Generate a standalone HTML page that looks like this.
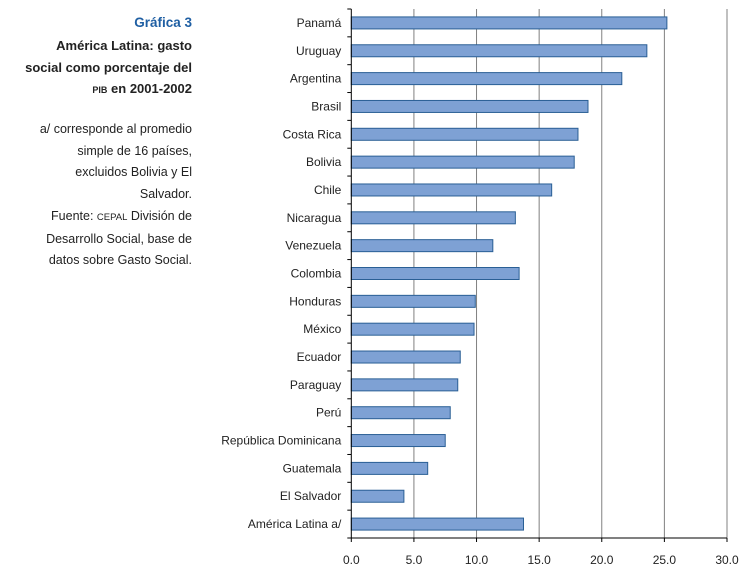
<!DOCTYPE html>
<html><head><meta charset="utf-8"><style>
body{margin:0;background:#fff;width:747px;height:577px;overflow:hidden;font-family:"Liberation Sans",sans-serif}
.side{position:absolute;right:555px;text-align:right;font-size:12.5px;color:#222;line-height:21.7px}
</style></head><body>
<div class="side" style="top:12px;color:#1f5fa3;font-weight:bold;font-size:13.5px">Gráfica 3</div>
<div class="side" style="top:35px;font-weight:bold;font-size:13px;width:200px">América Latina: gasto<br>social como porcentaje del<br><span style="font-size:9px">PIB</span> en 2001-2002</div>
<div class="side" style="top:119px;width:200px">a/ corresponde al promedio<br>simple de 16 países,<br>excluidos Bolivia y El<br>Salvador.<br>Fuente: <span style="font-size:9.5px">CEPAL</span> División de<br>Desarrollo Social, base de<br>datos sobre Gasto Social.</div>
<svg id="chart" width="747" height="577" style="position:absolute;left:0;top:0"></svg>
<script>
const categories=["Panamá","Uruguay","Argentina","Brasil","Costa Rica","Bolivia","Chile","Nicaragua","Venezuela","Colombia","Honduras","México","Ecuador","Paraguay","Perú","República Dominicana","Guatemala","El Salvador","América Latina a/"];
const values=[25.2,23.6,21.6,18.9,18.1,17.8,16.0,13.1,11.3,13.4,9.9,9.8,8.7,8.5,7.9,7.5,6.1,4.2,13.75];
const ticks=[0,5,10,15,20,25,30];
const NS="http://www.w3.org/2000/svg";
const svg=document.getElementById('chart');
const x0=351.3,x1=727,top0=9,bottom=538;
const xs=v=>x0+(v/30)*(x1-x0);
const step=(bottom-top0)/categories.length;
const ys=i=>top0+step*i;
function mk(t,a){const e=document.createElementNS(NS,t);for(const k in a)e.setAttribute(k,a[k]);svg.appendChild(e);return e;}
ticks.forEach(t=>{
  if(t>0){const g=mk('line',{x1:xs(t),x2:xs(t),y1:top0,y2:bottom,stroke:'#808080','stroke-width':1});
  
  }
  const tk=mk('line',{x1:xs(t),x2:xs(t),y1:bottom,y2:bottom+4,stroke:'#000'});
  
  
  const l=mk('text',{x:xs(t),y:bottom+26,'text-anchor':'middle','font-size':12,fill:'#222','font-family':'Liberation Sans'});
  l.textContent=t.toFixed(1);
  
  
});
categories.forEach((c,i)=>{
  const b=mk('rect',{x:x0,y:ys(i)+step/2-6,width:xs(values[i])-x0,height:12,fill:'#7ea1d4',stroke:'#2a5f95','stroke-width':1});
  
  
  const l=mk('text',{x:x0-10,y:ys(i)+step/2+4,'text-anchor':'end','font-size':12,fill:'#222','font-family':'Liberation Sans'});
  l.textContent=c;
  
  
});
for(let i=0;i<=categories.length;i++){
  const t=mk('line',{x1:x0-4,x2:x0,y1:ys(i),y2:ys(i),stroke:'#000'});
  
  
}
const ya=mk('line',{x1:x0,x2:x0,y1:top0,y2:bottom,stroke:'#000'});


const xa=mk('line',{x1:x0,x2:x1,y1:bottom,y2:bottom,stroke:'#000'});


</script>
</body></html>
